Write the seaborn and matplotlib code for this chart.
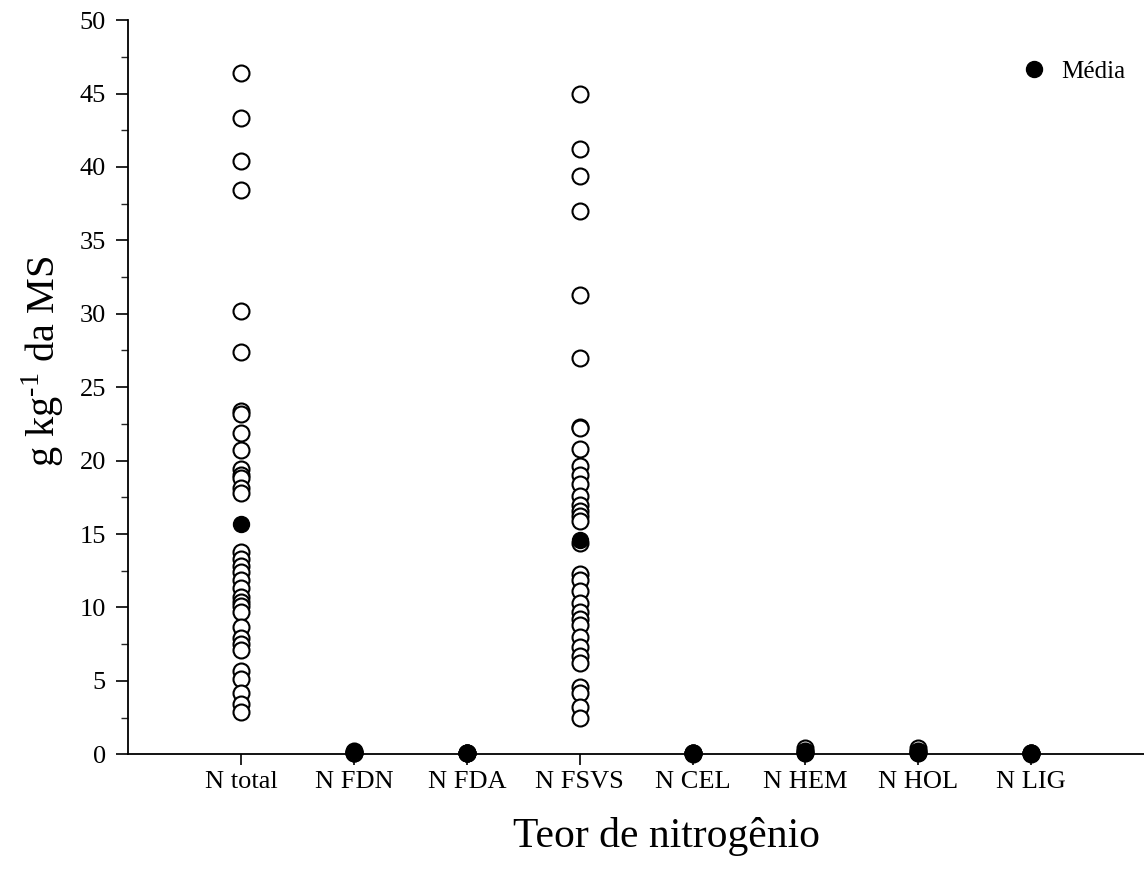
import matplotlib
matplotlib.use("Agg")
import matplotlib.pyplot as plt
from matplotlib.lines import Line2D
from matplotlib.ticker import MultipleLocator
import seaborn as sns
import pandas as pd

# ---------------- DATA ---------------- #
categories = ["N total", "N FDN", "N FDA", "N FSVS", "N CEL", "N HEM", "N HOL", "N LIG"]

n_total = [46.4, 43.3, 40.4, 38.4, 30.2, 27.4, 23.4, 23.2, 21.9, 20.7, 19.4, 19.0,
           18.8, 18.1, 17.8, 13.8, 13.3, 12.8, 12.4, 11.9, 11.3, 10.7, 10.4, 10.1,
           9.7, 8.7, 7.9, 7.5, 7.1, 5.7, 5.1, 4.2, 3.4, 2.9]
n_fdn = [0.20, 0.15, 0.12, 0.10]
n_fda = [0.12, 0.10, 0.08, 0.06]
n_fsvs = [45.0, 41.2, 39.4, 37.0, 31.3, 27.0, 22.3, 22.2, 20.8, 19.6, 19.0, 18.4,
          17.6, 17.0, 16.6, 16.2, 15.9, 14.4, 12.3, 11.9, 11.1, 10.3, 9.7, 9.2,
          8.8, 8.0, 7.3, 6.7, 6.2, 4.6, 4.2, 3.2, 2.5]
n_cel = [0.12, 0.10, 0.08, 0.05]
n_hem = [0.40, 0.25, 0.15, 0.08]
n_hol = [0.40, 0.25, 0.15, 0.08]
n_lig = [0.10, 0.08, 0.06, 0.04]

medias = [15.7, 0.15, 0.10, 14.6, 0.10, 0.12, 0.12, 0.08]

series = [n_total, n_fdn, n_fda, n_fsvs, n_cel, n_hem, n_hol, n_lig]
df = pd.DataFrame({
    "cat": [c for c, vals in zip(categories, series) for _ in vals],
    "val": [v for vals in series for v in vals],
})
df_mean = pd.DataFrame({"cat": categories, "val": medias})

# ---------------- STYLE ---------------- #
sns.set_style("ticks")
plt.rcParams["font.family"] = ["Liberation Serif", "DejaVu Serif"]
plt.rcParams["mathtext.fontset"] = "custom"
plt.rcParams["mathtext.rm"] = "Liberation Serif"
plt.rcParams["text.color"] = "black"
plt.rcParams["axes.labelcolor"] = "black"

fig = plt.figure(figsize=(11.44, 8.74), dpi=100)
ax = fig.add_axes([0.112, 0.137, 0.888, 0.84])

sns.stripplot(data=df, x="cat", y="val", order=categories, jitter=False,
              color="white", edgecolor="black", linewidth=1.5, size=11.5,
              ax=ax, zorder=3, clip_on=False)
sns.stripplot(data=df_mean, x="cat", y="val", order=categories, jitter=False,
              color="black", edgecolor="black", linewidth=1.0, size=11.5,
              ax=ax, zorder=4, clip_on=False)

ax.set_xlim(-1, 8)
ax.set_ylim(0, 50)
ax.yaxis.set_major_locator(MultipleLocator(5))
ax.yaxis.set_minor_locator(MultipleLocator(2.5))

for s in ["top", "right"]:
    ax.spines[s].set_visible(False)
for s in ["left", "bottom"]:
    ax.spines[s].set_linewidth(1.3)
    ax.spines[s].set_color("black")

ax.tick_params(axis="y", which="major", length=9, width=1.2, labelsize=19,
               direction="out", pad=7, colors="black")
ax.tick_params(axis="y", which="minor", length=5, width=1.0, direction="out")
ax.tick_params(axis="x", which="major", length=8, width=1.2, labelsize=19,
               direction="out", pad=4, colors="black")

ax.set_xlabel("Teor de nitrogênio", fontsize=30)
ax.xaxis.set_label_coords(0.53, -0.085)
ax.set_ylabel("g kg$^{\\mathregular{\u2010}1}$ da MS", fontsize=29)
ax.yaxis.set_label_coords(-0.061, 0.535)

handle = Line2D([], [], marker="o", linestyle="none", markersize=11.5,
                markerfacecolor="black", markeredgecolor="black")
ax.legend([handle], ["Média"], loc="upper left", frameon=False, fontsize=18,
          bbox_to_anchor=(0.879, 0.945), borderaxespad=0, borderpad=0,
          handlelength=1.0, handletextpad=0.6)

fig.savefig("out.png", dpi=100)
